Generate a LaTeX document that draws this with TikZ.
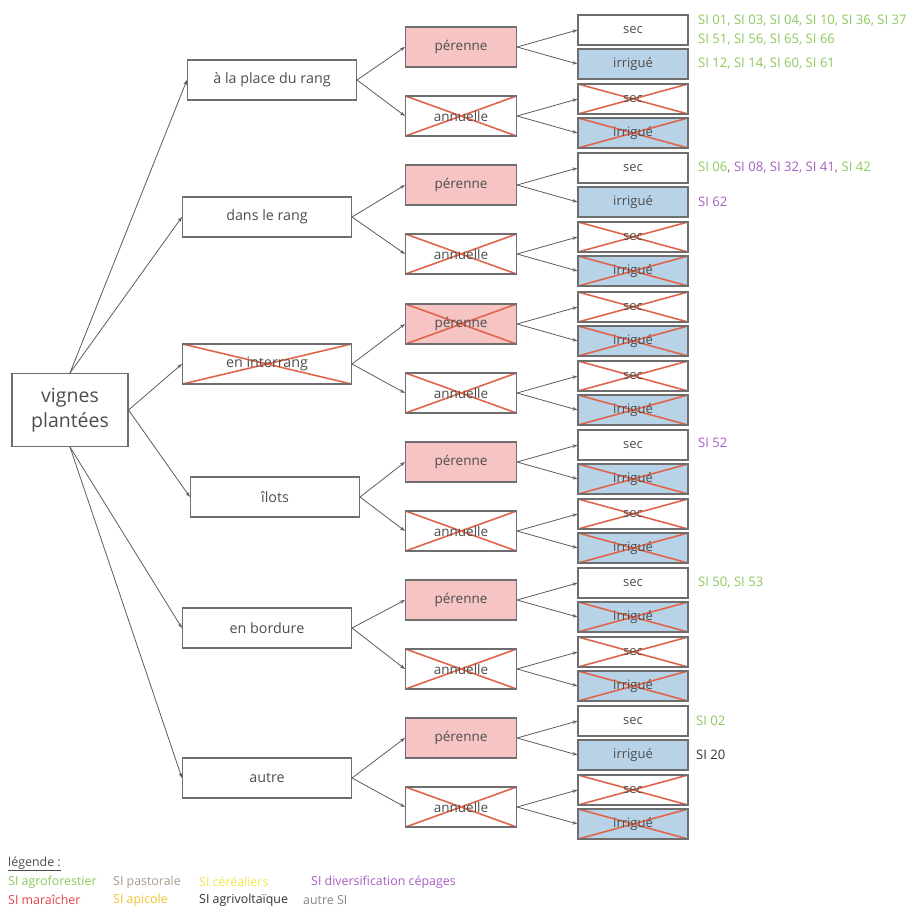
\documentclass[tikz,border=0pt]{standalone}
\usepackage{fontspec}
\setmainfont{Open Sans}
\usetikzlibrary{arrows.meta}

\definecolor{trait}{HTML}{5C5C5C}
\definecolor{bord}{HTML}{6E6E6E}
\definecolor{texte}{HTML}{4D4D4D}
\definecolor{croix}{HTML}{E0664B}
\definecolor{rose}{HTML}{F7C4C4}
\definecolor{bleu}{HTML}{B8D2E7}
\definecolor{agro}{HTML}{8DC85C}
\definecolor{pasto}{HTML}{A8998A}
\definecolor{cere}{HTML}{F2E64A}
\definecolor{diver}{HTML}{A65DBF}
\definecolor{mara}{HTML}{E04343}
\definecolor{apic}{HTML}{F2C22A}
\definecolor{agriv}{HTML}{333333}
\definecolor{autre}{HTML}{858585}

\begin{document}
\begin{tikzpicture}[x=1pt, y=-1pt,
   every node/.style={text=texte},
   boite/.style={draw=bord, line width=1.1pt, rectangle, inner sep=0pt},
   barree/.style={path picture={
       \draw[croix, line width=1.6pt]
         (path picture bounding box.south west) -- (path picture bounding box.north east)
         (path picture bounding box.north west) -- (path picture bounding box.south east);}},
   racine/.style={boite, minimum width=116pt, minimum height=73pt, align=center,
                  font=\fontsize{19.5}{25}\selectfont},
   lvl/.style={boite, minimum width=169pt, minimum height=40pt, font=\fontsize{14.3}{17}\selectfont},
   lvlx/.style={lvl, barree},
   per/.style={boite, fill=rose, minimum width=111pt, minimum height=40pt, font=\fontsize{13.5}{16}\selectfont},
   perx/.style={per, barree},
   ann/.style={per, fill=white, barree},
   sec/.style={boite, fill=white, minimum width=110pt, minimum height=30pt, font=\fontsize{13}{15}\selectfont},
   secx/.style={sec, barree},
   irr/.style={sec, fill=bleu},
   irrx/.style={irr, barree},
   fl/.style={draw=trait, line width=0.8pt, -{Stealth[length=5pt, width=3.5pt]}},
   si/.style={anchor=west, inner sep=0pt, font=\fontsize{13.1}{15}\selectfont},
   leg/.style={anchor=west, inner sep=0pt, font=\fontsize{12.4}{14}\selectfont}]

\useasboundingbox (0,0) rectangle (910,910);

\node[racine] (root) at (70,410) {vignes\\plantées};

% niveau 1
\foreach \g/\x/\y/\s/\d/\t in {1/272/80/lvl/north/{à la place du rang},
                               2/267/217/lvl/north/{dans le rang},
                               3/267/364/lvlx/east/{en interrang},
                               4/275/497/lvl/east/{îlots},
                               5/267/628/lvl/south/{en bordure},
                               6/267/778/lvl/south/{autre}}{
  \node[\s] (r\g) at (\x,\y) {\t};
  \draw[fl] (root.\d) -- (r\g.west);
}

% niveaux 2 et 3
\foreach \g/\b/\ps/\ss/\is in {1/30/per/sec/irr, 2/168/per/sec/irr, 3/307/perx/secx/irrx,
                               4/445/per/sec/irrx, 5/583/per/sec/irrx, 6/721/per/sec/irr}{
  \node[\ps] (p\g) at (461,\b+17) {pérenne};
  \node[ann] (a\g) at (461,\b+86) {annuelle};
  \node[\ss] (sp\g) at (633,\b) {sec};
  \node[\is] (ip\g) at (633,\b+34) {irrigué};
  \node[secx] (sa\g) at (633,\b+69) {sec};
  \node[irrx] (ia\g) at (633,\b+103) {irrigué};
  \draw[fl] (r\g.east) -- (p\g.west);
  \draw[fl] (r\g.east) -- (a\g.west);
  \draw[fl] (p\g.east) -- (sp\g.west);
  \draw[fl] (p\g.east) -- (ip\g.west);
  \draw[fl] (a\g.east) -- (sa\g.west);
  \draw[fl] (a\g.east) -- (ia\g.west);
}

% listes des SI
\node[si, text=agro] (l1) at (698,21) {SI 01, SI 03, SI 04, SI 10, SI 36, SI 37};
\node[si, text=agro] (l2) at (698,40) {SI 51, SI 56, SI 65, SI 66};
\node[si, text=agro] (l3) at (698,64) {SI 12, SI 14, SI 60, SI 61};
\node[si, text=diver] (l4) at (698,168) {\textcolor{agro}{SI 06}, SI 08, SI 32, SI 41, \textcolor{agro}{SI 42}};
\node[si, text=diver] (l5) at (698,202) {SI 62};
\node[si, text=diver] (l6) at (698,443) {SI 52};
\node[si, text=agro] (l7) at (698,583) {SI 50, SI 53};
\node[si, text=agro] (l8) at (696,721) {SI 02};
\node[si, text=agriv] (l9) at (696,755) {SI 20};

% légende
\node[leg, text=texte] (lg) at (8,864) {\underline{légende :}};
\node[leg, text=agro] (lg1) at (8,882) {SI agroforestier};
\node[leg, text=pasto] (lg2) at (113,882) {SI pastorale};
\node[leg, text=cere] (lg3) at (199,882) {SI céréaliers};
\node[leg, text=diver] (lg4) at (311,882) {SI diversification cépages};
\node[leg, text=mara] (lg5) at (8,900) {SI maraîcher};
\node[leg, text=apic] (lg6) at (113,900) {SI apicole};
\node[leg, text=agriv] (lg7) at (199,900) {SI agrivoltaïque};
\node[leg, text=autre] (lg8) at (303,900) {autre SI};

\end{tikzpicture}
\end{document}
